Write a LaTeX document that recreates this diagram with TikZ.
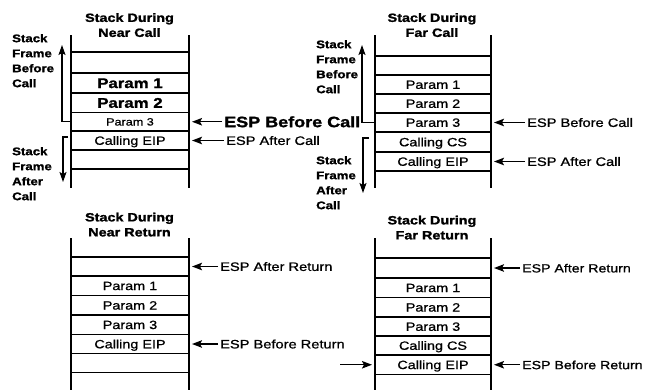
\documentclass[tikz,border=0pt]{standalone}
\usepackage{fontspec}
\setmainfont{Liberation Sans}[FakeStretch=1.2]
\newfontfamily\medf{Liberation Sans}[FakeStretch=1.2,FakeBold=1]
\newfontfamily\heavyf{Liberation Sans Bold}[FakeStretch=1.2,FakeBold=1.5]
\usetikzlibrary{arrows.meta}
\newcommand\stkcell[7]{\node[cellbox, minimum width={#3pt-#2pt}, minimum height={#5pt-#4pt}, #6] (#1) at ({(#2+#3)/2},{(#4+#5)/2}) {#7};}
\begin{document}
\begin{tikzpicture}[x=1pt,y=-1pt,
  wall/.style={line width=2.3pt},
  cellbox/.style={draw, line width=1.7pt, inner sep=0pt, outer sep=0pt,
    font=\medf\fontsize{12}{14}\selectfont, text height=8.6pt, text depth=0pt},
  bigp/.style={font=\heavyf\fontsize{14}{16}\selectfont, text height=10pt},
  smp/.style={font=\medf\fontsize{10.5}{12}\selectfont, text height=7.5pt},
  ttl/.style={align=center, anchor=north, inner sep=0pt,
    font=\heavyf\fontsize{12}{15}\selectfont},
  side/.style={align=left, anchor=north west, inner sep=0pt,
    font=\heavyf\fontsize{11}{15}\selectfont},
  esp/.style={anchor=west, inner sep=0pt, font=\medf\fontsize{12.2}{14}\selectfont,
    text height=8.8pt, text depth=0pt},
  bigesp/.style={anchor=west, inner sep=0pt, font=\heavyf\fontsize{15}{17}\selectfont,
    text height=10.8pt, text depth=0pt},
  espar/.style={line width=1.4pt, -{Stealth[length=10pt,width=7.5pt,inset=2pt]}, shorten >=3pt, shorten <=2pt},
  brk/.style={line width=1.4pt, -{Stealth[length=10pt,width=7pt,inset=2pt]}}
]
\useasboundingbox (0,0) rectangle (645,391);

% ---------- Near Call ----------
\node[ttl] (ncT) at (129.5,13) {Stack During\\Near Call};
\stkcell{ncE1}{71}{189}{52}{73}{}{}
\stkcell{ncP1}{71}{189}{73}{93}{bigp}{Param 1}
\stkcell{ncP2}{71}{189}{93}{112.5}{bigp}{Param 2}
\stkcell{ncP3}{71}{189}{112.5}{131}{smp}{Param 3}
\stkcell{ncEIP}{71}{189}{131}{150}{}{Calling EIP}
\stkcell{ncE2}{71}{189}{150}{169}{}{}
\draw[wall] (71,35) -- (71,188);
\draw[wall] (189,35) -- (189,188);
\node[side] (ncSB) at (12,34) {Stack\\Frame\\Before\\Call};
\node[side] (ncSA) at (12,147) {Stack\\Frame\\After\\Call};
\coordinate (ncUp) at (62,45);
\draw[brk] (ncP3.west) -- (ncP3.west -| ncUp) -- (ncUp);
\coordinate (ncDn0) at (68,137);
\coordinate (ncDn) at (63,182);
\draw[brk] (ncDn0) -- (ncDn0 -| ncDn) -- (ncDn);
\node[bigesp] (ncEB) at ([xshift=35pt]ncP3.east) {ESP Before Call};
\node[esp] (ncEA) at ([xshift=37pt]ncEIP.east) {ESP After Call};
\draw[espar] (ncEB) -- (ncP3.east);
\draw[espar] (ncEA) -- (ncEIP.east);

% ---------- Far Call ----------
\node[ttl] (fcT) at (432,13) {Stack During\\Far Call};
\stkcell{fcE1}{375}{491}{56}{75}{}{}
\stkcell{fcP1}{375}{491}{75}{94}{}{Param 1}
\stkcell{fcP2}{375}{491}{94}{113}{}{Param 2}
\stkcell{fcP3}{375}{491}{113}{132}{}{Param 3}
\stkcell{fcCS}{375}{491}{132}{152}{}{Calling CS}
\stkcell{fcEIP}{375}{491}{152}{171}{}{Calling EIP}
\draw[wall] (375,35) -- (375,188);
\draw[wall] (491,35) -- (491,188);
\node[side] (fcSB) at (316,40) {Stack\\Frame\\Before\\Call};
\node[side] (fcSA) at (316,156) {Stack\\Frame\\After\\Call};
\coordinate (fcUp) at (362,45);
\draw[brk] (fcP3.west) -- (fcP3.west -| fcUp) -- (fcUp);
\coordinate (fcDn0) at (369,138);
\coordinate (fcDn) at (363,193);
\draw[brk] (fcDn0) -- (fcDn0 -| fcDn) -- (fcDn);
\node[esp] (fcEB) at ([xshift=36pt]fcP3.east) {ESP Before Call};
\node[esp] (fcEA) at ([xshift=36pt]fcEIP.east) {ESP After Call};
\draw[espar] (fcEB) -- (fcP3.east);
\draw[espar] (fcEA) -- (fcEIP.east);

% ---------- Near Return ----------
\node[ttl] (nrT) at (129.5,212.5) {Stack During\\Near Return};
\stkcell{nrE1}{71}{189}{257}{276}{}{}
\stkcell{nrP1}{71}{189}{276}{295.5}{}{Param 1}
\stkcell{nrP2}{71}{189}{295.5}{315}{}{Param 2}
\stkcell{nrP3}{71}{189}{315}{334.5}{}{Param 3}
\stkcell{nrEIP}{71}{189}{334.5}{353.5}{}{Calling EIP}
\stkcell{nrE2}{71}{189}{353.5}{372.5}{}{}
\draw[wall] (71,238) -- (71,390);
\draw[wall] (189,238) -- (189,390);
\node[esp] (nrEA) at ([xshift=31pt]nrE1.east) {ESP After Return};
\node[esp] (nrEB) at ([xshift=31pt]nrEIP.east) {ESP Before Return};
\draw[espar] (nrEA) -- (nrE1.east);
\draw[espar] (nrEB) -- (nrEIP.east);

% ---------- Far Return ----------
\node[ttl] (frT) at (432,215.5) {Stack During\\Far Return};
\stkcell{frE1}{375}{491}{258}{278}{}{}
\stkcell{frP1}{375}{491}{278}{297.5}{}{Param 1}
\stkcell{frP2}{375}{491}{297.5}{317}{}{Param 2}
\stkcell{frP3}{375}{491}{317}{336}{}{Param 3}
\stkcell{frCS}{375}{491}{336}{355}{}{Calling CS}
\stkcell{frEIP}{375}{491}{355}{374.5}{}{Calling EIP}
\draw[wall] (375,238) -- (375,390);
\draw[wall] (491,238) -- (491,390);
\node[esp, font=\medf\fontsize{11.8}{14}\selectfont] (frEA) at ([xshift=31pt]frE1.east) {ESP After Return};
\node[esp, font=\medf\fontsize{11.8}{14}\selectfont] (frEB) at ([xshift=31pt]frEIP.east) {ESP Before Return};
\draw[espar] (frEA) -- (frE1.east);
\draw[espar] (frEB) -- (frEIP.east);
\coordinate (frIn) at (340,364.75);
\draw[espar, shorten <=0pt] (frIn) -- (frEIP.west);
\end{tikzpicture}
\end{document}
